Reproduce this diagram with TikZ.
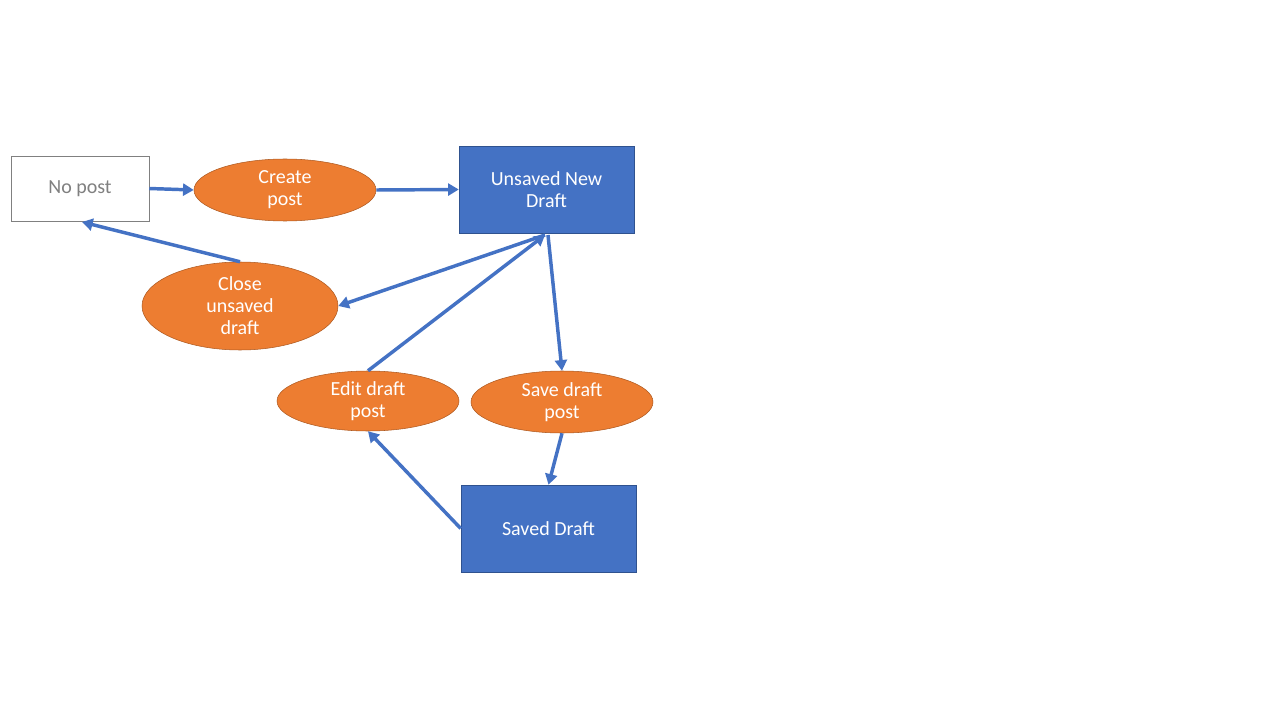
\documentclass[tikz,border=0pt]{standalone}
\usepackage{fontspec}
\setmainfont{Carlito}
\usetikzlibrary{shapes.geometric,arrows.meta}
\definecolor{bl}{RGB}{68,114,196}
\definecolor{bld}{RGB}{47,82,143}
\definecolor{or}{RGB}{237,125,49}
\definecolor{ord}{RGB}{174,90,33}
\tikzset{
 st/.style={draw=bld,fill=bl,text=white,minimum width=131.25pt,minimum height=65.25pt,inner sep=2pt,align=center,font=\fontsize{15}{16.5}\selectfont},
 ev/.style={ellipse,draw=ord,fill=or,text=white,inner sep=0pt,align=center,font=\fontsize{15}{16.5}\selectfont},
 ar/.style={draw=bl,line width=2.6pt,-{Triangle[length=8pt,width=9pt]}}
}
\begin{document}
\begin{tikzpicture}[x=0.75pt,y=-0.75pt]
\useasboundingbox (0,0) rectangle (1280,720);
\node[draw=gray,fill=white,text=gray,minimum width=103.5pt,minimum height=48.75pt,font=\fontsize{15}{16.5}\selectfont] (np) at (80,188.5) {No post};
\node[ev,minimum width=136.5pt,minimum height=46.5pt] (cp) at (285,190) {Create\\post};
\node[st] (un) at (546.5,189.5) {Unsaved New\\Draft};
\node[ev,minimum width=147pt,minimum height=66pt] (cl) at (240,306) {Close\\unsaved\\draft};
\node[ev,minimum width=136.5pt,minimum height=45pt] (ed) at (368,401) {Edit draft\\post};
\node[ev,minimum width=136.5pt,minimum height=46.5pt] (sv) at (562,402) {Save draft\\post};
\node[st] (sd) at (548.5,528.5) {Saved Draft};
\coordinate (ub) at (545,235);
\coordinate (ub2) at (548,235);
\draw[ar] (np.east) -- (cp.west);
\draw[ar] (cp.east) -- (un.west);
\draw[ar] (ub) -- (cl.east);
\draw[ar] (cl.north) -- (82,222);
\draw[ar] (ed.north) -- (ub);
\draw[ar] (ub2) -- (sv.north);
\draw[ar] (sv.south) -- (sd.north);
\draw[ar] (sd.west) -- (ed.south);
\end{tikzpicture}
\end{document}
